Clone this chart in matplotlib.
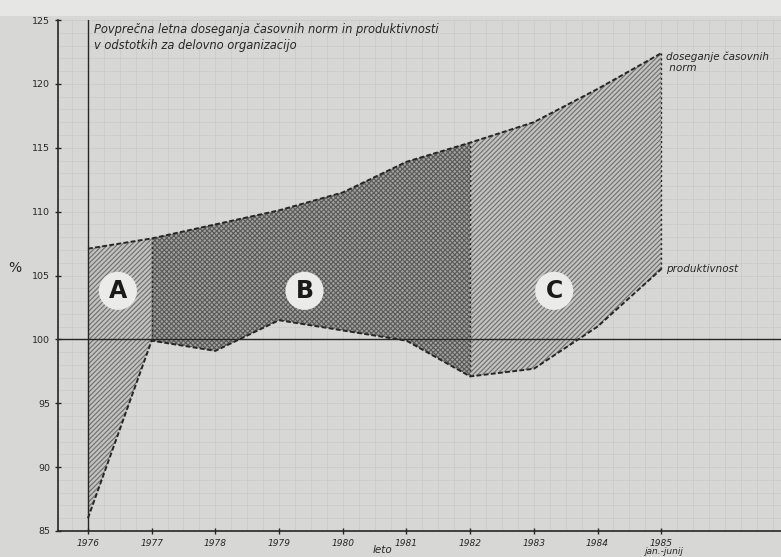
import numpy as np
import matplotlib.pyplot as plt

# ---- data ----
years = [1976, 1977, 1978, 1979, 1980, 1981, 1982, 1983, 1984, 1985]
norm_pct = [107.1, 107.9, 109.0, 110.1, 111.5, 113.9, 115.4, 117.0, 119.6, 122.4]
prod_pct = [86.0, 99.9, 99.1, 101.5, 100.7, 99.9, 97.1, 97.7, 101.0, 105.5]
year_labels = [str(y) for y in years]
y_ticks = [85, 90, 95, 100, 105, 110, 115, 120, 125]

paper = '#d7d7d5'
ink = '#262626'

plt.rcParams['hatch.linewidth'] = 0.8
plt.rcParams['hatch.color'] = '#555555'

fig = plt.figure(figsize=(7.81, 5.57), dpi=100, facecolor=paper)
ax = fig.add_axes([58 / 781, 26 / 557, 723 / 781, 511 / 557], facecolor=paper)

x = np.array(years, dtype=float)
up = np.array(norm_pct)
lo = np.array(prod_pct)

# graph paper, faint
for gx in np.arange(1975.5, 1987, 0.25):
    ax.axvline(gx, color='#cacac8', lw=0.5, zorder=0)
for gy in np.arange(85, 126, 1):
    ax.axhline(gy, color='#cacac8', lw=0.5, zorder=0)
# lighter strip along the top of the scan
fig.patches.append(plt.Rectangle((0, 1 - 16 / 557), 1, 16 / 557, transform=fig.transFigure,
                                 fc='#e6e6e4', ec='none', zorder=-1))

# shaded regions A, B, C
ax.fill_between(x[0:2], lo[0:2], up[0:2], facecolor='#c2c2bf', hatch='///////',
                edgecolor='#6e6e6e', lw=0, zorder=1)
ax.fill_between(x[1:7], lo[1:7], up[1:7], facecolor='#a2a29f', hatch='xxxxxxx',
                edgecolor='#5a5a5a', lw=0, zorder=1)
ax.fill_between(x[6:10], lo[6:10], up[6:10], facecolor='#c2c2bf', hatch='///////',
                edgecolor='#6e6e6e', lw=0, zorder=1)

# region borders
for i in (1, 6, 9):
    ax.vlines(x[i], lo[i], up[i], colors=ink, lw=1.0, linestyles=(0, (1.5, 2)), zorder=2)

ax.axhline(100, color=ink, lw=1.0, zorder=2)
ax.axvline(1976, color=ink, lw=1.0, zorder=2)

ax.plot(x, up, color=ink, lw=1.4, ls=(0, (2.5, 1.2)), zorder=3)
ax.plot(x, lo, color=ink, lw=1.4, ls=(0, (2.5, 1.2)), zorder=3)

# labels inside areas
for lab, lx in (('A', 1976.47), ('B', 1979.4), ('C', 1983.32)):
    ax.text(lx, 103.8, lab, fontsize=17, fontweight='bold', color='#1a1a1a',
            ha='center', va='center', zorder=4,
            bbox=dict(boxstyle='circle,pad=0.3', fc='#ebebe9', ec='none'))

ax.text(1976.1, 123.6, 'Povprečna letna doseganja časovnih norm in produktivnosti\n'
        'v odstotkih za delovno organizacijo', fontsize=8.3, style='italic',
        color=ink, ha='left', va='center', linespacing=1.3)
ax.text(1985.08, up[-1] + 0.1, 'doseganje časovnih\n norm', fontsize=7.5, style='italic',
        color=ink, ha='left', va='top', linespacing=1.1)
ax.text(1985.08, lo[-1], 'produktivnost', fontsize=7.5, style='italic',
        color=ink, ha='left', va='center')

ax.set_xlim(1975.53, 1986.88)
ax.set_ylim(85, 125)
ax.set_xticks(years)
ax.set_xticklabels(year_labels, fontsize=6.5, style='italic', color=ink)
ax.set_yticks(y_ticks)
ax.set_yticklabels([str(v) for v in y_ticks], fontsize=6.8, color=ink)
ax.tick_params(axis='both', direction='inout', length=5, width=1, color=ink, pad=3)
for s in ('top', 'right'):
    ax.spines[s].set_visible(False)
for s in ('left', 'bottom'):
    ax.spines[s].set_color(ink)
    ax.spines[s].set_linewidth(1.2)

fig.text(15 / 781, 1 - 268 / 557, '%', fontsize=10, color=ink, ha='center', va='center')
fig.text(383 / 781, 1 - 550 / 557, 'leto', fontsize=7.5, style='italic', color=ink,
         ha='center', va='center')
fig.text(663 / 781, 1 - 552 / 557, 'jan.-junij', fontsize=6.5, style='italic', color=ink,
         ha='center', va='center')

fig.savefig('out.png', dpi=100, facecolor=paper)
